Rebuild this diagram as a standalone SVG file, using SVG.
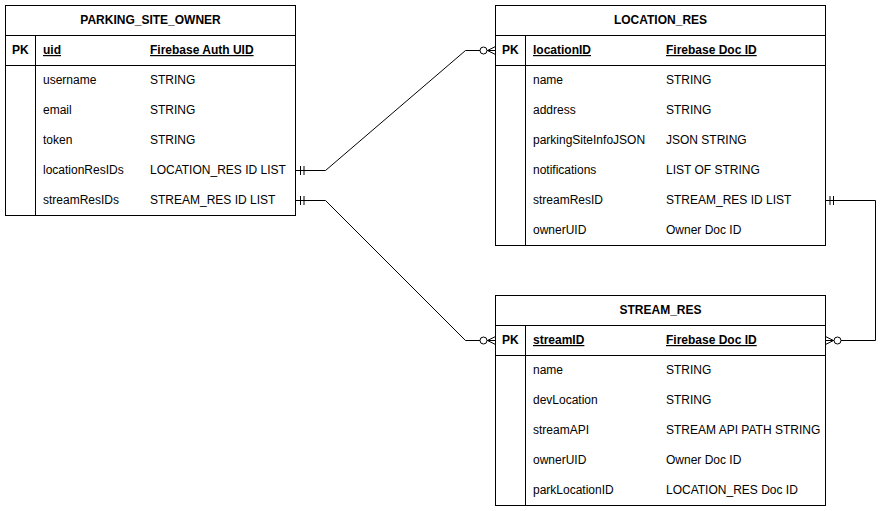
<svg xmlns="http://www.w3.org/2000/svg" width="890" height="511" viewBox="0 0 890 511">
<style>
text{font-family:"Liberation Sans",Arial,sans-serif;font-size:12px;fill:#000}
.t{font-weight:bold;text-anchor:middle}
.pk{font-weight:bold}
.k{font-weight:bold;text-decoration:underline}
.box{fill:#fff;stroke:#000;stroke-width:1}
.ln{fill:none;stroke:#000;stroke-width:1}
</style>
<rect width="890" height="511" fill="#fff"/>
<g id="connectors">
  <path class="ln" d="M295.5 170.5 H325.5 L465.5 50.5 H495.5"/>
  <path class="ln" d="M300.5 166 V175 M304 166 V175"/>
  <circle class="ln" cx="483.5" cy="50.5" r="3.5" fill="#fff" style="fill:#fff"/>
  <path class="ln" d="M495.5 46.5 L487.5 50.5 L495.5 54.5"/>
  <path class="ln" d="M295.5 200.5 H325.5 L465.5 340.5 H495.5"/>
  <path class="ln" d="M300.5 196 V205 M304 196 V205"/>
  <circle class="ln" cx="483.5" cy="340.5" r="3.5" style="fill:#fff"/>
  <path class="ln" d="M495.5 336.5 L487.5 340.5 L495.5 344.5"/>
  <path class="ln" d="M825.5 200.5 H875.5 V340.5 H825.5"/>
  <path class="ln" d="M830 196 V205 M833.5 196 V205"/>
  <circle class="ln" cx="837.5" cy="340.5" r="3.5" style="fill:#fff"/>
  <path class="ln" d="M825.5 336.5 L833.5 340.5 L825.5 344.5"/>
</g>
<g id="parking_site_owner">
  <rect class="box" x="5.5" y="5.5" width="290" height="210"/>
  <path class="ln" d="M5.5 35.5 H295.5 M5.5 65.5 H295.5 M35.5 35.5 V215.5"/>
  <text class="t" x="150.5" y="24">PARKING_SITE_OWNER</text>
  <text class="pk" x="12" y="54">PK</text>
  <text class="k" x="43" y="54">uid</text>
  <text class="k" x="150" y="54">Firebase Auth UID</text>
  <text x="43" y="84">username</text><text x="150" y="84">STRING</text>
  <text x="43" y="114">email</text><text x="150" y="114">STRING</text>
  <text x="43" y="144">token</text><text x="150" y="144">STRING</text>
  <text x="43" y="174">locationResIDs</text><text x="150" y="174">LOCATION_RES ID LIST</text>
  <text x="43" y="204">streamResIDs</text><text x="150" y="204">STREAM_RES ID LIST</text>
</g>
<g id="location_res">
  <rect class="box" x="495.5" y="5.5" width="330" height="240"/>
  <path class="ln" d="M495.5 35.5 H825.5 M495.5 65.5 H825.5 M525.5 35.5 V245.5"/>
  <text class="t" x="660.5" y="24">LOCATION_RES</text>
  <text class="pk" x="502" y="54">PK</text>
  <text class="k" x="533" y="54">locationID</text>
  <text class="k" x="666" y="54">Firebase Doc ID</text>
  <text x="533" y="84">name</text><text x="666" y="84">STRING</text>
  <text x="533" y="114">address</text><text x="666" y="114">STRING</text>
  <text x="533" y="144">parkingSiteInfoJSON</text><text x="666" y="144">JSON STRING</text>
  <text x="533" y="174">notifications</text><text x="666" y="174">LIST OF STRING</text>
  <text x="533" y="204">streamResID</text><text x="666" y="204">STREAM_RES ID LIST</text>
  <text x="533" y="234">ownerUID</text><text x="666" y="234">Owner Doc ID</text>
</g>
<g id="stream_res">
  <rect class="box" x="495.5" y="295.5" width="330" height="210"/>
  <path class="ln" d="M495.5 325.5 H825.5 M495.5 355.5 H825.5 M525.5 325.5 V505.5"/>
  <text class="t" x="660.5" y="314">STREAM_RES</text>
  <text class="pk" x="502" y="344">PK</text>
  <text class="k" x="533" y="344">streamID</text>
  <text class="k" x="666" y="344">Firebase Doc ID</text>
  <text x="533" y="374">name</text><text x="666" y="374">STRING</text>
  <text x="533" y="404">devLocation</text><text x="666" y="404">STRING</text>
  <text x="533" y="434">streamAPI</text><text x="666" y="434">STREAM API PATH STRING</text>
  <text x="533" y="464">ownerUID</text><text x="666" y="464">Owner Doc ID</text>
  <text x="533" y="494">parkLocationID</text><text x="666" y="494">LOCATION_RES Doc ID</text>
</g>
</svg>
